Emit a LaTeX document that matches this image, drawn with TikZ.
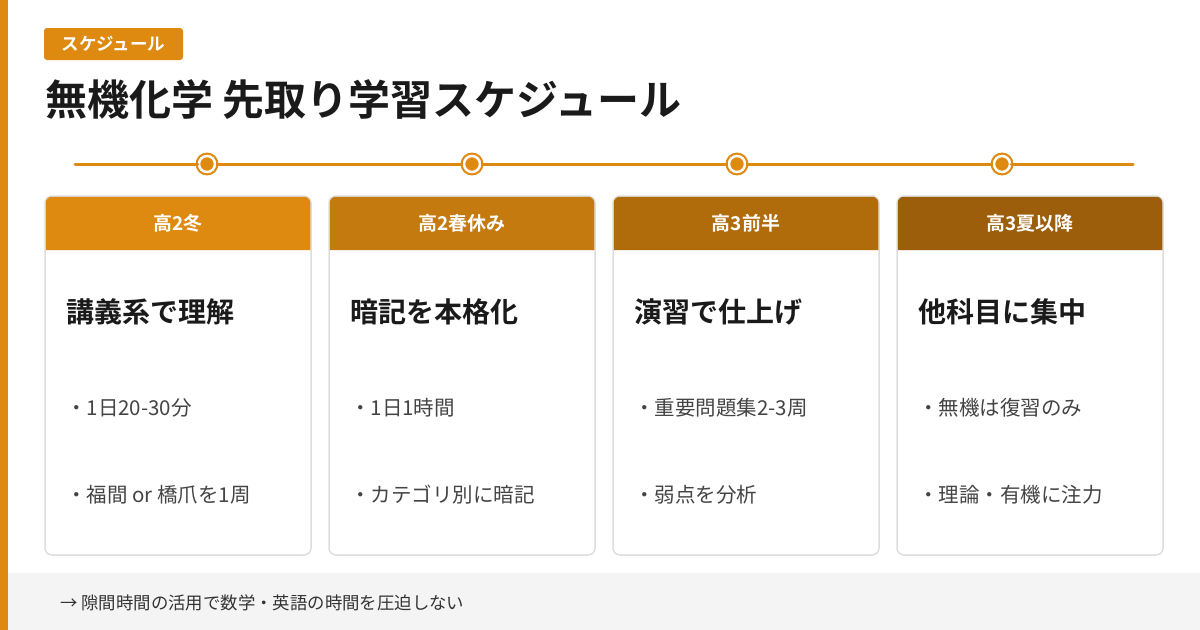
\documentclass[tikz,border=0pt]{standalone}
\usepackage{fontspec}
\setmainfont{Noto Sans CJK JP}[BoldFont={Noto Sans CJK JP Bold}]
\usetikzlibrary{positioning}
\definecolor{accent}{HTML}{DE8A10}
\definecolor{phaseA}{HTML}{DE8A10}
\definecolor{phaseB}{HTML}{C47A0E}
\definecolor{phaseC}{HTML}{B06B0B}
\definecolor{phaseD}{HTML}{9C5E0A}
\definecolor{ink}{HTML}{1A1A1A}
\definecolor{itemgray}{HTML}{444444}
\definecolor{notegray}{HTML}{333333}
\definecolor{cardline}{HTML}{DDDDDD}
\definecolor{footbg}{HTML}{F4F4F4}
\begin{document}
\begin{tikzpicture}[>=latex,line join=bevel,
  card/.style={draw=cardline,line width=1.5bp,fill=white,rounded corners=7bp,
    minimum width=266bp,minimum height=359bp,inner sep=0pt},
  phase/.style={text=white,inner sep=0pt,font=\fontsize{19bp}{22bp}\selectfont\bfseries},
  goal/.style={anchor=west,inner sep=0pt,text=ink,font=\fontsize{28bp}{33bp}\selectfont\bfseries},
  item/.style={anchor=west,inner sep=0pt,text=itemgray,font=\fontsize{20.5bp}{24bp}\selectfont},
  dot/.style={circle,fill=accent,draw=white,line width=2.5bp,minimum size=16bp,inner sep=0pt,
    preaction={draw=accent,line width=6.8bp}},
  ]
\useasboundingbox (0bp,0bp) rectangle (1200bp,-630bp);
%%
\fill[footbg] (7bp,-573bp) rectangle (1200bp,-630bp);
\fill[accent] (0bp,0bp) rectangle (8bp,-630bp);
\node (note) at (60bp,-603bp) [anchor=west,inner sep=0pt,text=notegray,font=\fontsize{17.4bp}{20bp}\selectfont] {→ 隙間時間の活用で数学・英語の時間を圧迫しない};
%
\node (tag) at (113.5bp,-44bp) [fill=accent,rounded corners=3bp,minimum width=139bp,minimum height=32bp,inner sep=0pt,text=white,font=\fontsize{17.5bp}{20bp}\selectfont\bfseries] {スケジュール};
\node (title) at (45bp,-100bp) [anchor=west,inner sep=0pt,text=ink,font=\fontsize{42bp}{50bp}\selectfont\bfseries] {無機化学 先取り学習スケジュール};
%
\coordinate (tl_start) at (75bp,-164bp);
\coordinate (tl_end) at (1133bp,-164bp);
\node (dot_1) at (207bp,-164bp) [dot] {};
\node (dot_2) at (472bp,-164bp) [dot] {};
\node (dot_3) at (737bp,-164bp) [dot] {};
\node (dot_4) at (1002bp,-164bp) [dot] {};
\draw [accent,line width=3bp,line cap=round] (tl_start) -- (dot_1);
\draw [accent,line width=3bp] (dot_1) -- (dot_2);
\draw [accent,line width=3bp] (dot_2) -- (dot_3);
\draw [accent,line width=3bp] (dot_3) -- (dot_4);
\draw [accent,line width=3bp,line cap=round] (dot_4) -- (tl_end);
%
\node (card_1) at (178bp,-375.5bp) [card] {};
\node (card_2) at (462bp,-375.5bp) [card] {};
\node (card_3) at (746bp,-375.5bp) [card] {};
\node (card_4) at (1030bp,-375.5bp) [card] {};
\fill[phaseA] (45.75bp,-250bp) [rounded corners=6bp] -- (45.75bp,-196.75bp) -- (310.25bp,-196.75bp) [sharp corners] -- (310.25bp,-250bp) -- cycle;
\fill[phaseB] (329.75bp,-250bp) [rounded corners=6bp] -- (329.75bp,-196.75bp) -- (594.25bp,-196.75bp) [sharp corners] -- (594.25bp,-250bp) -- cycle;
\fill[phaseC] (613.75bp,-250bp) [rounded corners=6bp] -- (613.75bp,-196.75bp) -- (878.25bp,-196.75bp) [sharp corners] -- (878.25bp,-250bp) -- cycle;
\fill[phaseD] (897.75bp,-250bp) [rounded corners=6bp] -- (897.75bp,-196.75bp) -- (1162.25bp,-196.75bp) [sharp corners] -- (1162.25bp,-250bp) -- cycle;
\node (hdr_1) at (178bp,-223bp) [phase] {高2冬};
\node (hdr_2) at (462bp,-223bp) [phase] {高2春休み};
\node (hdr_3) at (746bp,-223bp) [phase] {高3前半};
\node (hdr_4) at (1030bp,-223bp) [phase] {高3夏以降};
%
\node (goal_1) at (66bp,-312bp) [goal] {講義系で理解};
\node (goal_2) at (350bp,-312bp) [goal] {暗記を本格化};
\node (goal_3) at (634bp,-312bp) [goal] {演習で仕上げ};
\node (goal_4) at (918bp,-312bp) [goal] {他科目に集中};
%
\node (item_1a) at (66bp,-408bp) [item] {・1日20-30分};
\node (item_1b) at (66bp,-495bp) [item] {・福間 or 橋爪を1周};
\node (item_2a) at (350bp,-408bp) [item] {・1日1時間};
\node (item_2b) at (350bp,-495bp) [item] {・カテゴリ別に暗記};
\node (item_3a) at (634bp,-408bp) [item] {・重要問題集2-3周};
\node (item_3b) at (634bp,-495bp) [item] {・弱点を分析};
\node (item_4a) at (918bp,-408bp) [item] {・無機は復習のみ};
\node (item_4b) at (918bp,-495bp) [item] {・理論・有機に注力};
%
\end{tikzpicture}
\end{document}
